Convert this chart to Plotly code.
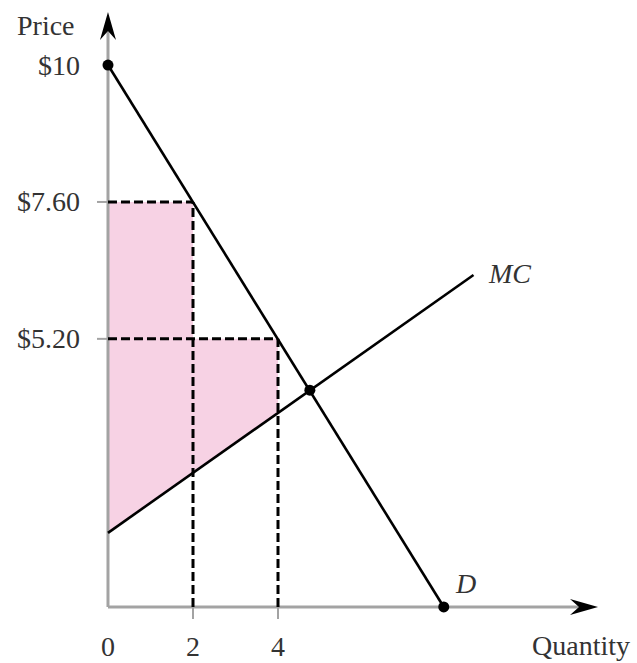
import plotly.graph_objects as go

# values
demand_q = [0, 2, 4, 7.9]
demand_p = [10, 7.6, 5.2, 0.5]
mc_q = [0, 2, 4, 8.6]
mc_p = [1.8, 2.85, 3.9, 6.32]
eq_q, eq_p = 4.75, 4.3
block_q = [2, 4]
block_p = [7.6, 5.2]
price_labels = ["$10", "$7.60", "$5.20"]
price_ticks = [10, 7.6, 5.2]
qty_ticks = [0, 2, 4]
base_p = 0.5  # the drawn quantity axis sits just above zero price

FONT = "Liberation Serif"
GREY = "#a3a3a3"
TXT = "#333333"

fig = go.Figure()

# shaded surplus
fig.add_trace(go.Scatter(
    x=[0, block_q[0], block_q[0], block_q[1], block_q[1], 0],
    y=[block_p[0], block_p[0], block_p[1], block_p[1], mc_p[2], mc_p[0]],
    fill="toself", fillcolor="#f7d2e4", line=dict(width=0), mode="lines",
    hoverinfo="skip"))

# axes
fig.add_trace(go.Scatter(x=[0, 0], y=[base_p, 10.75], mode="lines",
                         line=dict(color=GREY, width=3)))
fig.add_trace(go.Scatter(x=[0, 11.3], y=[base_p, base_p], mode="lines",
                         line=dict(color=GREY, width=3)))

# dashed guides
for q, p in zip(block_q, block_p):
    fig.add_trace(go.Scatter(x=[0, q], y=[p, p], mode="lines",
                             line=dict(color="black", width=3, dash="9px,4px")))
    fig.add_trace(go.Scatter(x=[q, q], y=[base_p, p], mode="lines",
                             line=dict(color="black", width=3, dash="9px,4px")))

# curves
fig.add_trace(go.Scatter(x=mc_q, y=mc_p, mode="lines", line=dict(color="black", width=2.6)))
fig.add_trace(go.Scatter(x=demand_q, y=demand_p, mode="lines", line=dict(color="black", width=2.6)))
fig.add_trace(go.Scatter(x=[demand_q[0], eq_q, demand_q[-1]], y=[demand_p[0], eq_p, demand_p[-1]],
                         mode="markers", marker=dict(color="black", size=11)))

shapes = []
# arrowheads
shapes.append(dict(type="path", xsizemode="pixel", ysizemode="pixel", xanchor=0, yanchor=10.93,
                   xref="x", yref="y", path="M0,0 L-8,-28 L0,-19 L8,-28 Z",
                   fillcolor="black", line=dict(width=0)))
shapes.append(dict(type="path", xsizemode="pixel", ysizemode="pixel", xanchor=11.53, yanchor=base_p,
                   xref="x", yref="y", path="M0,0 L-28,8 L-19,0 L-28,-8 Z",
                   fillcolor="black", line=dict(width=0)))
# tick marks
for p in price_ticks[1:]:
    shapes.append(dict(type="line", xsizemode="pixel", xanchor=0, x0=-11, x1=0, y0=p, y1=p,
                       xref="x", yref="y", line=dict(color=GREY, width=2)))
for q in qty_ticks[1:]:
    shapes.append(dict(type="line", ysizemode="pixel", yanchor=base_p, y0=-12, y1=0, x0=q, x1=q,
                       xref="x", yref="y", line=dict(color=GREY, width=2)))

ann = []
f = dict(family=FONT, size=28, color=TXT)
ann.append(dict(x=-0.73, y=10.7, text="Price", xanchor="right", yanchor="middle", showarrow=False, font=f))
for lab, p in zip(price_labels, price_ticks):
    ann.append(dict(x=-0.6, y=p, text=lab, xanchor="right", yanchor="middle", showarrow=False, font=f))
for q in qty_ticks:
    ann.append(dict(x=q, y=-0.2, text=str(q), xanchor="center", yanchor="middle", showarrow=False, font=f))
ann.append(dict(x=11.13, y=-0.17, text="Quantity", xanchor="center", yanchor="middle", showarrow=False, font=f))
ann.append(dict(x=8.9, y=6.35, text="<i>MC</i>", xanchor="left", yanchor="middle", showarrow=False, font=f))
ann.append(dict(x=8.42, y=0.92, text="<i>D</i>", xanchor="center", yanchor="middle", showarrow=False, font=f))

fig.update_layout(
    width=637, height=663, margin=dict(l=0, r=0, t=0, b=0),
    paper_bgcolor="white", plot_bgcolor="white", showlegend=False,
    xaxis=dict(range=[-2.541, 12.447], visible=False, fixedrange=True),
    yaxis=dict(range=[-0.482, 11.14], visible=False, fixedrange=True),
    shapes=shapes, annotations=ann,
)

fig.write_html("out.html", config={"displayModeBar": False},
               post_script="document.body.style.margin='0';document.body.style.overflow='hidden';")
